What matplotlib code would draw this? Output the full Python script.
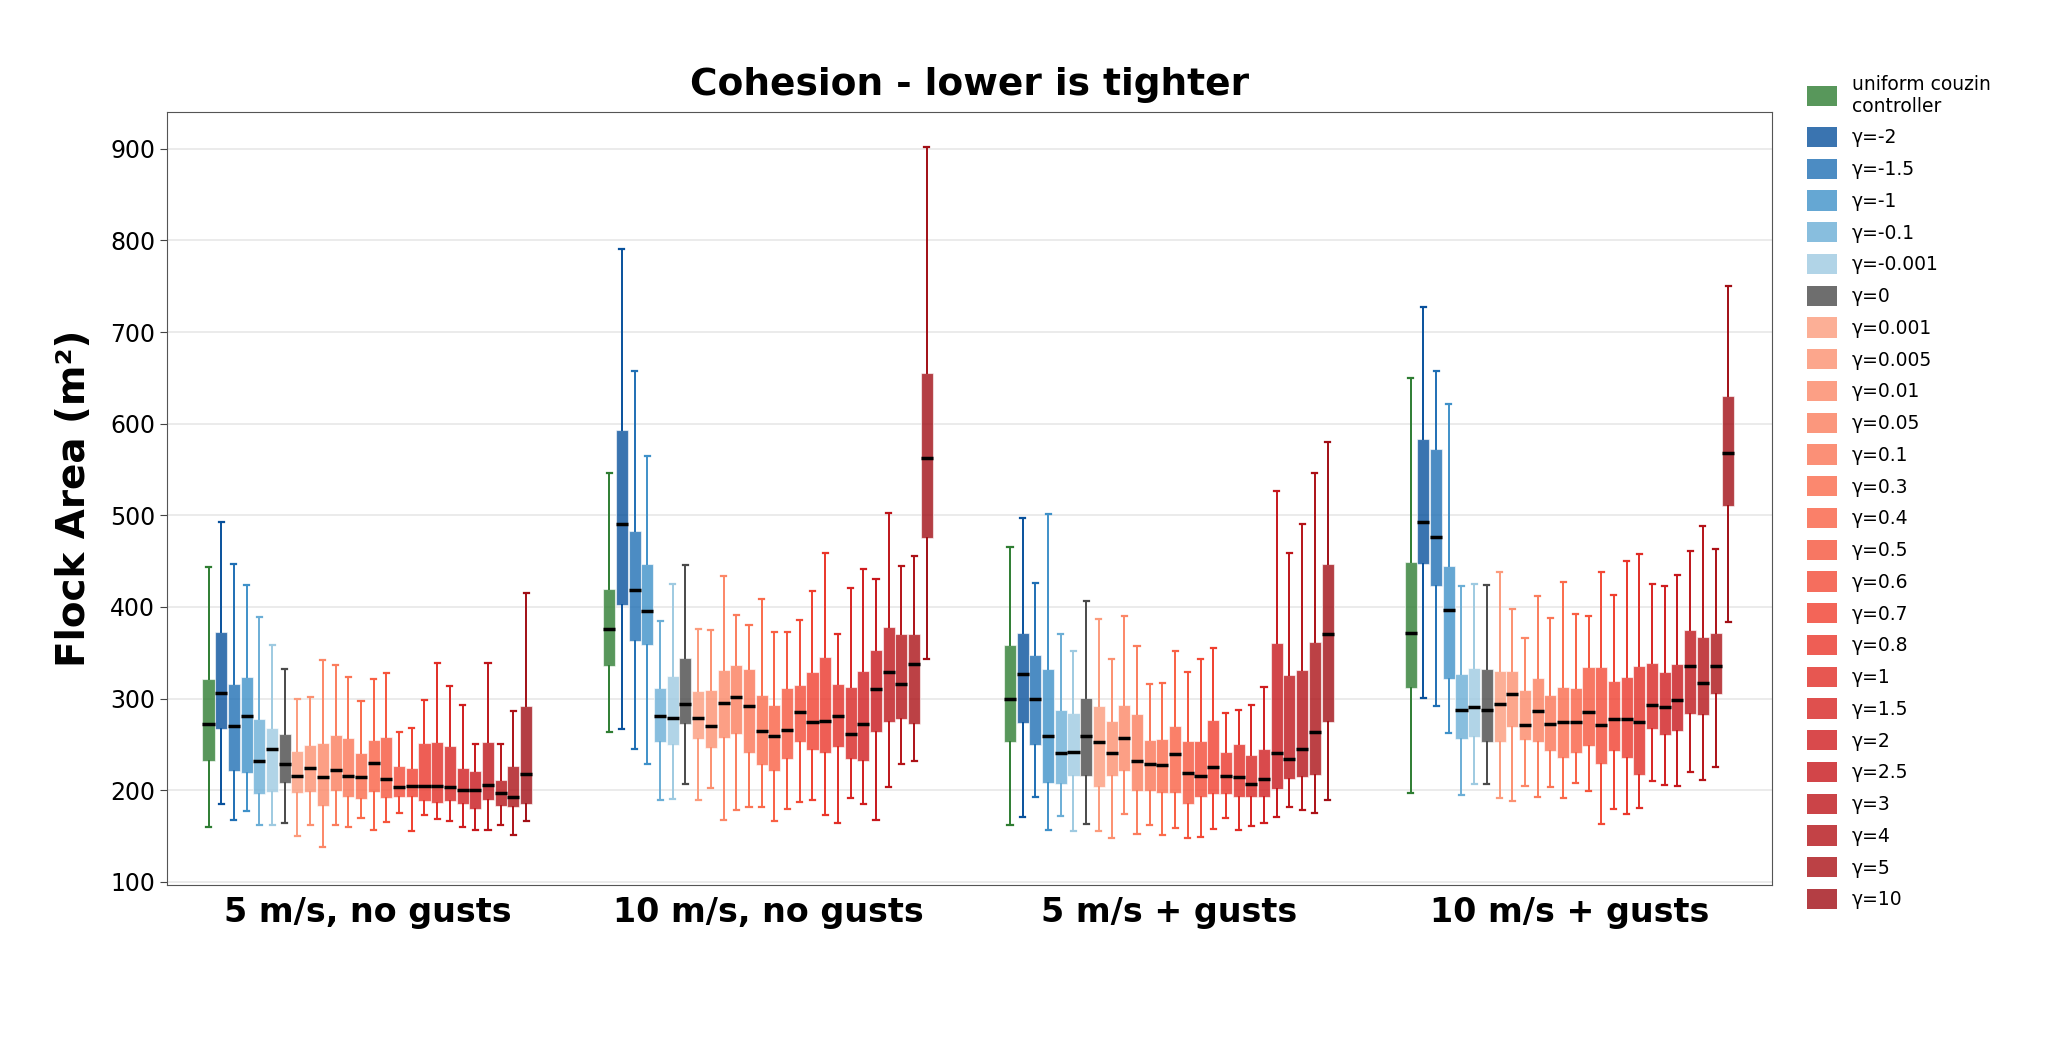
import numpy as np
import matplotlib.pyplot as plt
from matplotlib.patches import Patch
from matplotlib import cm, colors as mcolors

GROUPS = ["5 m/s, no gusts", "10 m/s, no gusts", "5 m/s + gusts", "10 m/s + gusts"]
SERIES = ["uniform couzin\ncontroller", "γ=-2", "γ=-1.5", "γ=-1", "γ=-0.1", "γ=-0.001", "γ=0",
          "γ=0.001", "γ=0.005", "γ=0.01", "γ=0.05", "γ=0.1", "γ=0.3", "γ=0.4", "γ=0.5", "γ=0.6",
          "γ=0.7", "γ=0.8", "γ=1", "γ=1.5", "γ=2", "γ=2.5", "γ=3", "γ=4", "γ=5", "γ=10"]

# group 1: 5 m/s, no gusts
g1_lo = [160, 185, 167, 177, 162, 162, 164, 150, 162, 138, 162, 160, 170, 157, 165, 175, 155, 173, 168, 166, 160, 157, 157, 162, 151, 166]
g1_q1 = [232, 267, 221, 219, 196, 198, 208, 197, 198, 183, 199, 193, 190, 198, 191, 192, 192, 188, 186, 188, 185, 179, 189, 183, 182, 185]
g1_med = [272, 306, 270, 281, 232, 245, 228, 215, 224, 214, 222, 215, 214, 230, 212, 203, 205, 205, 204, 203, 200, 200, 206, 197, 193, 218]
g1_q3 = [321, 373, 316, 324, 278, 268, 261, 243, 249, 251, 260, 257, 241, 255, 258, 226, 224, 251, 252, 248, 224, 221, 252, 211, 226, 292]
g1_hi = [443, 493, 447, 424, 389, 358, 332, 300, 302, 342, 337, 324, 297, 321, 328, 264, 268, 298, 339, 314, 293, 250, 339, 250, 286, 415]

# group 2: 10 m/s, no gusts
g2_lo = [264, 267, 245, 229, 189, 190, 207, 189, 202, 167, 178, 182, 182, 166, 179, 187, 189, 173, 164, 191, 185, 167, 203, 228, 232, 343]
g2_q1 = [336, 402, 363, 358, 253, 249, 272, 256, 246, 257, 261, 240, 227, 221, 234, 253, 244, 240, 247, 234, 232, 264, 274, 278, 272, 475]
g2_med = [376, 491, 418, 396, 281, 279, 294, 279, 270, 295, 302, 292, 265, 259, 266, 285, 274, 275, 281, 261, 272, 310, 329, 316, 338, 562]
g2_q3 = [420, 593, 483, 447, 311, 325, 344, 308, 309, 331, 337, 332, 304, 293, 311, 315, 329, 345, 316, 313, 330, 353, 378, 370, 370, 655]
g2_hi = [546, 791, 658, 565, 385, 425, 446, 376, 375, 434, 391, 380, 409, 373, 373, 386, 417, 459, 370, 421, 441, 430, 502, 445, 456, 902]

# group 3: 5 m/s + gusts
g3_lo = [162, 171, 192, 156, 172, 155, 163, 155, 148, 174, 152, 162, 151, 159, 148, 149, 158, 170, 157, 161, 164, 171, 182, 178, 175, 189]
g3_q1 = [253, 273, 249, 208, 207, 215, 215, 203, 215, 221, 199, 199, 197, 197, 185, 192, 196, 196, 192, 192, 193, 201, 212, 214, 216, 274]
g3_med = [300, 327, 300, 259, 241, 242, 259, 252, 240, 257, 232, 229, 227, 239, 219, 215, 225, 215, 214, 207, 212, 240, 234, 245, 264, 370]
g3_q3 = [358, 372, 348, 332, 287, 284, 301, 292, 275, 293, 283, 255, 256, 270, 254, 254, 277, 242, 250, 238, 245, 361, 326, 331, 362, 447]
g3_hi = [465, 497, 426, 501, 370, 352, 406, 387, 343, 390, 357, 316, 317, 352, 329, 343, 355, 284, 288, 293, 313, 526, 459, 490, 546, 580]

# group 4: 10 m/s + gusts
g4_lo = [197, 301, 292, 262, 195, 207, 207, 191, 188, 205, 192, 203, 191, 208, 199, 163, 179, 174, 180, 210, 206, 204, 220, 211, 225, 384]
g4_q1 = [311, 447, 423, 321, 256, 258, 253, 253, 269, 255, 253, 243, 235, 240, 248, 228, 243, 235, 216, 267, 260, 265, 283, 282, 305, 510]
g4_med = [371, 493, 476, 397, 288, 291, 288, 294, 305, 271, 286, 272, 274, 274, 285, 271, 278, 278, 274, 293, 291, 298, 335, 317, 336, 568]
g4_q3 = [449, 583, 572, 445, 327, 333, 332, 330, 330, 309, 322, 304, 313, 311, 334, 334, 319, 323, 335, 339, 329, 338, 375, 367, 371, 630]
g4_hi = [650, 727, 658, 621, 423, 425, 424, 438, 398, 366, 412, 388, 427, 392, 390, 438, 413, 450, 458, 425, 423, 435, 461, 488, 463, 750]

group_data = [
    (g1_lo, g1_q1, g1_med, g1_q3, g1_hi),
    (g2_lo, g2_q1, g2_med, g2_q3, g2_hi),
    (g3_lo, g3_q1, g3_med, g3_q3, g3_hi),
    (g4_lo, g4_q1, g4_med, g4_q3, g4_hi),
]

# colours: green, blues, grey, then a red ramp
fills = ["#2e7d32", "#08519c", "#1f6fb4", "#3f91c9", "#6baed6", "#9ecae1", "#4a4a4a"]
reds = cm.Reds(np.linspace(0.35, 0.88, 19))
fills += [mcolors.to_hex(c) for c in reds]
ALPHA = 0.8

plt.rcParams["font.family"] = ["DejaVu Sans"]
fig = plt.figure(figsize=(20.46, 10.48), dpi=100)
ax = fig.add_axes([0.0816, 0.156, 0.7844, 0.737])

n = len(SERIES)
slot = 0.0317
for gi, (lo, q1, med, q3, hi) in enumerate(group_data):
    for si in range(n):
        x = gi + (si - (n - 1) / 2) * slot
        st = [dict(whislo=lo[si], q1=q1[si], med=med[si], q3=q3[si], whishi=hi[si], fliers=[])]
        c = fills[si]
        ax.bxp(st, positions=[x], widths=slot * 0.95, patch_artist=True, showfliers=False,
               boxprops=dict(facecolor=mcolors.to_rgba(c, ALPHA), edgecolor=mcolors.to_rgba("white", 0.6), linewidth=0.8),
               whiskerprops=dict(color=c, linewidth=1.4),
               capprops=dict(color=c, linewidth=1.6),
               medianprops=dict(color="black", linewidth=2.5),
               capwidths=slot * 0.4, manage_ticks=False)

ax.set_xlim(-0.5, 3.505)
ax.set_ylim(97, 940)
ax.set_yticks(range(100, 1000, 100))
ax.tick_params(axis="y", labelsize=17, length=5, color="#444444")
ax.set_xticks(range(4))
ax.set_xticklabels(GROUPS, fontsize=24, fontweight="bold")
ax.tick_params(axis="x", length=0, pad=8)
ax.yaxis.grid(True, color="#e8e8e8", linewidth=1.2)
ax.set_axisbelow(True)
for s in ax.spines.values():
    s.set_color("#555555")
ax.set_ylabel("Flock Area (m²)", fontsize=28, fontweight="bold", labelpad=12)
ax.set_title("Cohesion - lower is tighter", fontsize=27, fontweight="bold", pad=12)

handles = [Patch(facecolor=mcolors.to_rgba(c, ALPHA), edgecolor="none") for c in fills]
fig.legend(handles, SERIES, loc="upper left", bbox_to_anchor=(0.875, 0.945), frameon=False,
           fontsize=13.5, handlelength=1.6, handleheight=1.3, labelspacing=0.6, handletextpad=0.8)

fig.savefig("out.png", dpi=100)
